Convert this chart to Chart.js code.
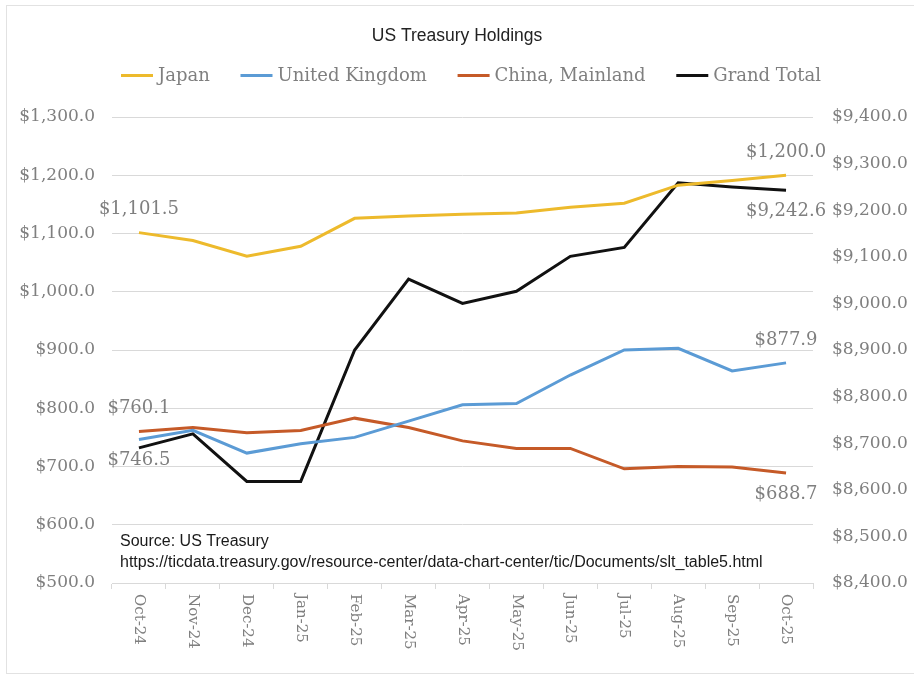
<!DOCTYPE html>
<html>
<head>
<meta charset="utf-8">
<script src="https://cdn.jsdelivr.net/npm/chart.js@4/dist/chart.umd.min.js"></script>
<style>
  body { margin: 0; background: #fff; }
  #wrap { position: relative; width: 914px; height: 675px; }
  #frame { position: absolute; left: 6px; top: 5px; width: 912px; height: 667px;
           border: 1px solid #e2e2e2; pointer-events: none; }
</style>
</head>
<body>
<div id="wrap">
  <canvas id="chart" width="914" height="675"></canvas>
  <div id="frame"></div>
</div>
<script>
// données (milliards $)
const months = ['Oct-24', 'Nov-24', 'Dec-24', 'Jan-25', 'Feb-25', 'Mar-25', 'Apr-25',
                'May-25', 'Jun-25', 'Jul-25', 'Aug-25', 'Sep-25', 'Oct-25']
const japan = [1101.5, 1088, 1061, 1078, 1126, 1130, 1133, 1135, 1145, 1152, 1183, 1191, 1200.0]
const uk = [746.5, 762, 723, 739, 750, 778, 806, 808, 857, 900, 903, 864, 877.9]
const china = [760.1, 767, 758, 762, 783, 767, 744, 731, 731, 696, 700, 699, 688.7]
const grandTotal = [8690, 8720, 8618, 8618, 8900, 9052, 9000, 9026, 9101, 9120, 9259, 9250, 9242.6]

const leftTicks = [500, 600, 700, 800, 900, 1000, 1100, 1200, 1300]
const rightTicks = [8400, 8500, 8600, 8700, 8800, 8900, 9000, 9100, 9200, 9300, 9400]

const sourceLines = ['Source: US Treasury',
  'https://ticdata.treasury.gov/resource-center/data-chart-center/tic/Documents/slt_table5.html']

const grey = '#7f7f7f'
const serif = '"DejaVu Serif", serif'
const sans = '"Liberation Sans", Arial, sans-serif'

function money(v) {
  return '$' + v.toLocaleString('en-US', { minimumFractionDigits: 1, maximumFractionDigits: 1 })
}

// étiquettes de début / fin de série : [index du dataset, index du point, 'up' ou 'down']
const endLabels = [
  [0, 0, 'up'], [2, 0, 'up'], [1, 0, 'down'],
  [0, 12, 'up'], [3, 12, 'down'], [1, 12, 'up'], [2, 12, 'down']
]

const extras = {
  id: 'extras',
  afterDatasetsDraw(chart) {
    const ctx = chart.ctx
    ctx.save()

    // légende maison (ligne + texte), de x=121 à x=821
    ctx.font = '18px ' + serif
    ctx.textBaseline = 'middle'
    ctx.textAlign = 'left'
    const sets = chart.data.datasets
    const widths = sets.map(d => 32 + 5 + ctx.measureText(d.label).width)
    const gap = (700 - widths.reduce((a, b) => a + b, 0)) / (sets.length - 1)
    let lx = 121
    sets.forEach((d, i) => {
      ctx.fillStyle = d.borderColor
      ctx.fillRect(lx, 74, 32, 3)
      ctx.fillStyle = grey
      ctx.fillText(d.label, lx + 37, 76)
      lx += widths[i] + gap
    })

    ctx.font = '18px ' + serif
    ctx.fillStyle = grey
    ctx.textAlign = 'center'
    endLabels.forEach(([d, i, pos]) => {
      const p = chart.getDatasetMeta(d).data[i]
      const v = sets[d].data[i]
      ctx.fillText(money(v), p.x, pos === 'up' ? p.y - 23 : p.y + 21)
    })

    // libellés de l'axe x, tournés vers le bas
    const xs = chart.scales.x
    ctx.font = '15px ' + serif
    ctx.textAlign = 'left'
    months.forEach((m, i) => {
      const x = xs.getPixelForValue(i)
      ctx.save()
      ctx.translate(x, xs.top + 11)
      ctx.rotate(Math.PI / 2)
      ctx.fillText(m, 0, 0)
      ctx.restore()
    })

    // source
    ctx.font = '16px ' + sans
    ctx.fillStyle = '#1a1a1a'
    ctx.fillText(sourceLines[0], 120, 542)
    ctx.fillText(sourceLines[1], 120, 563)
    ctx.restore()
  }
}

const line = (label, data, color, axis) => ({
  label: label,
  data: data,
  borderColor: color,
  backgroundColor: color,
  borderWidth: 3,
  pointRadius: 0,
  tension: 0,
  yAxisID: axis
})

new Chart(document.getElementById('chart'), {
  type: 'line',
  data: {
    labels: months,
    datasets: [
      line('Japan', japan, '#EDBA2C', 'y'),
      line('United Kingdom', uk, '#5B9BD5', 'y'),
      line('China, Mainland', china, '#C55A28', 'y'),
      line('Grand Total', grandTotal, '#111111', 'y1')
    ]
  },
  options: {
    responsive: false,
    animation: false,
    layout: { padding: 0 },
    plugins: {
      title: {
        display: true,
        text: 'US Treasury Holdings',
        color: '#222',
        font: { family: sans, size: 17.5, weight: 'normal' },
        padding: { top: 26, bottom: 70 }
      },
      legend: { display: false },
      tooltip: { enabled: false }
    },
    scales: {
      x: {
        offset: true,
        grid: { offset: true, drawOnChartArea: false, drawTicks: true, tickLength: 6, color: '#d9d9d9' },
        border: { color: '#d9d9d9' },
        ticks: { display: false },
        afterFit(s) { s.height = 92 }
      },
      y: {
        position: 'left',
        min: 500,
        max: 1300,
        afterBuildTicks(s) { s.ticks = leftTicks.map(v => ({ value: v })) },
        grid: { color: '#d9d9d9', drawTicks: false },
        border: { display: false },
        ticks: { color: grey, font: { family: serif, size: 17 }, padding: 17, callback: v => money(v) },
        afterFit(s) { s.width = 112 }
      },
      y1: {
        position: 'right',
        min: 8400,
        max: 9400,
        afterBuildTicks(s) { s.ticks = rightTicks.map(v => ({ value: v })) },
        grid: { drawOnChartArea: false, drawTicks: false },
        border: { display: false },
        ticks: { color: grey, font: { family: serif, size: 17 }, padding: 19, callback: v => money(v) },
        afterFit(s) { s.width = 101 }
      }
    }
  },
  plugins: [extras]
})
</script>
</body>
</html>
